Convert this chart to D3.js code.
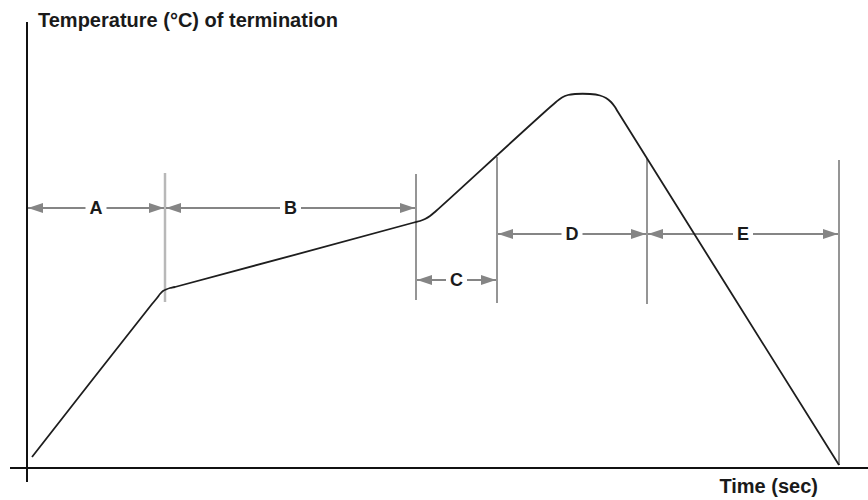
<!DOCTYPE html>
<html>
<head>
<meta charset="utf-8">
<script src="https://cdn.jsdelivr.net/npm/d3@7"></script>
<style>
  html, body { margin: 0; padding: 0; background: #fff; }
  svg { display: block; }
  text { font-family: "Liberation Sans", Arial, sans-serif; font-weight: bold; fill: #1a1a1a; }
</style>
</head>
<body>
<svg id="chart" width="868" height="500"></svg>
<script>
// ---- data (time units, temperature units; schematic profile) ----
const profileTime = [2.5, 62.5, 65, 66.5, 68, 69.5, 71.5, 74, 193.5, 196.5, 199, 201.5, 204.5,
                     264.5, 267.5, 270.5, 274, 281.5, 286.5, 289.5, 292, 294, 295.5, 406];
const profileTemp = [5.5, 82, 85, 87, 88.5, 89.25, 90, 90.5, 122.75, 123.5, 124.5, 126, 128.5,
                     183, 185.25, 186.5, 187, 187, 186.25, 185, 183, 180.5, 178, 1.5];

const zoneNames = ["A", "B", "C", "D", "E"];
const zoneStart = [0, 69, 194.5, 235, 310];
const zoneEnd   = [69, 194.5, 235, 310, 406];
const zoneLevel = [130, 130, 94, 117, 117];

const markerTime   = [69, 194.5, 235, 310, 406];
const markerTop    = [147.5, 147, 155.5, 155, 154];
const markerBottom = [83, 84, 82.5, 82, 1.5];

const yTitle = "Temperature (°C) of termination";
const xTitle = "Time (sec)";

// ---- scales ----
const x = d3.scaleLinear().domain([0, 420]).range([27, 867]);
const y = d3.scaleLinear().domain([0, 225]).range([468, 18]);

const svg = d3.select("#chart");

// arrowhead markers
const defs = svg.append("defs");
defs.append("marker").attr("id", "arrEnd")
  .attr("markerUnits", "userSpaceOnUse")
  .attr("viewBox", "0 0 15 10").attr("refX", 15).attr("refY", 5)
  .attr("markerWidth", 15).attr("markerHeight", 10).attr("orient", "auto")
  .append("path").attr("d", "M0,0 L15,5 L0,10 Z").attr("fill", "#858585");
defs.append("marker").attr("id", "arrStart")
  .attr("markerUnits", "userSpaceOnUse")
  .attr("viewBox", "0 0 15 10").attr("refX", 0).attr("refY", 5)
  .attr("markerWidth", 15).attr("markerHeight", 10).attr("orient", "auto")
  .append("path").attr("d", "M15,0 L0,5 L15,10 Z").attr("fill", "#858585");

// axes
const [x0, x1] = x.range();
const [yb, yt] = y.range();
svg.append("line").attr("x1", x0).attr("x2", x0).attr("y1", yt + 4).attr("y2", yb + 14)
  .attr("stroke", "#111").attr("stroke-width", 2);
svg.append("line").attr("x1", x0 - 17).attr("x2", x1 + 1).attr("y1", yb).attr("y2", yb)
  .attr("stroke", "#111").attr("stroke-width", 2);

// vertical zone markers
svg.append("g").selectAll("line").data(markerTime).join("line")
  .attr("x1", d => x(d)).attr("x2", d => x(d))
  .attr("y1", (d, i) => y(markerTop[i])).attr("y2", (d, i) => y(markerBottom[i]))
  .attr("stroke", (d, i) => i === 0 ? "#b8b8b8" : "#8a8a8a")
  .attr("stroke-width", (d, i) => i === 0 ? 2.5 : 1.8);

// dimension arrows
const zones = zoneNames.map((n, i) => ({ n, s: zoneStart[i], e: zoneEnd[i], l: zoneLevel[i] }));
const zg = svg.append("g");
zg.selectAll("line").data(zones).join("line")
  .attr("x1", d => x(d.s) + 1).attr("x2", d => x(d.e) - 1)
  .attr("y1", d => y(d.l)).attr("y2", d => y(d.l))
  .attr("stroke", "#858585").attr("stroke-width", 2)
  .attr("marker-start", "url(#arrStart)").attr("marker-end", "url(#arrEnd)");

const labels = zg.selectAll("g.lab").data(zones).join("g").attr("class", "lab");
labels.append("rect").attr("fill", "#fff");
labels.append("text")
  .attr("x", d => x((d.s + d.e) / 2)).attr("y", d => y(d.l))
  .attr("dy", "0.36em").attr("text-anchor", "middle")
  .attr("font-size", 18).text(d => d.n);
labels.each(function () {
  const t = d3.select(this).select("text").node().getBBox();
  d3.select(this).select("rect")
    .attr("x", t.x - 4).attr("y", t.y).attr("width", t.width + 8).attr("height", t.height);
});

// profile curve
const pts = profileTime.map((t, i) => [t, profileTemp[i]]);
svg.append("path").datum(pts)
  .attr("fill", "none").attr("stroke", "#1e1e1e").attr("stroke-width", 1.8)
  .attr("stroke-linejoin", "round")
  .attr("d", d3.line().x(d => x(d[0])).y(d => y(d[1])).curve(d3.curveCatmullRom.alpha(0.5)));

// titles
svg.append("text").attr("x", 38).attr("y", 27).attr("font-size", 20).text(yTitle);
svg.append("text").attr("x", 818).attr("y", 493).attr("text-anchor", "end").attr("font-size", 20).text(xTitle);
</script>
</body>
</html>
